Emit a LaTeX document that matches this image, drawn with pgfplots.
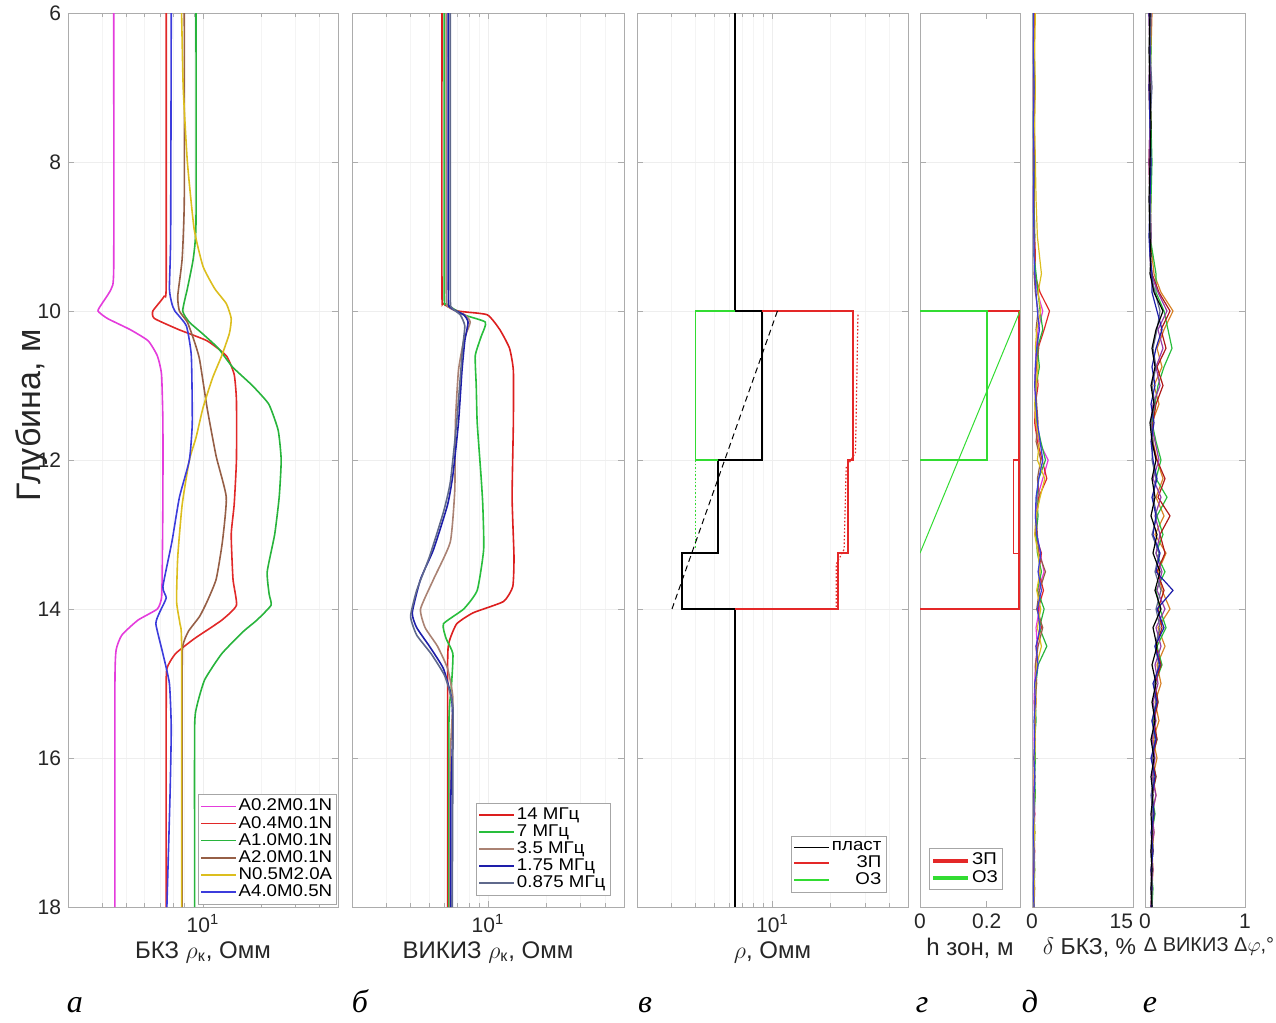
\documentclass[border=0pt]{standalone}
\usepackage{fontspec}
\setmainfont{Liberation Sans}
\newfontfamily\legfont[FakeStretch=1.1]{Liberation Sans}
\newfontfamily\letterfont{Liberation Serif}
\usepackage{pgfplots}
\pgfplotsset{compat=1.18}
\usepackage{pgfplotstable}

% probe colours
\definecolor{cMag}{RGB}{228,60,220}
\definecolor{cRed}{RGB}{225,40,40}
\definecolor{cGrn}{RGB}{40,180,60}
\definecolor{cBrn}{RGB}{150,95,70}
\definecolor{cYel}{RGB}{220,190,30}
\definecolor{cBlu}{RGB}{60,60,220}
% VIKIZ frequencies
\definecolor{fRed}{RGB}{220,30,30}
\definecolor{fGrn}{RGB}{40,190,60}
\definecolor{fTau}{RGB}{170,130,115}
\definecolor{fNav}{RGB}{30,30,170}
\definecolor{fSte}{RGB}{95,105,140}
% model
\definecolor{mRed}{RGB}{228,40,40}
\definecolor{mGrn}{RGB}{50,220,50}
\definecolor{eOrg}{RGB}{215,130,40}
\definecolor{ePur}{RGB}{150,60,170}

% relative BKZ errors, %
\pgfplotstableread{
depth m r g b y bl
6     .3 .4 .2 .3 .5 .2
6.5   .3 .3 .3 .2 .4 .2
7     .2 .4 .3 .3 .5 .3
7.5   .3 .3 .2 .3 .4 .2
8     .3 .4 .3 .2 .5 .3
8.5   .2 .3 .3 .3 .6 .2
9     .3 .4 .4 .3 .8 .3
9.25  .4 .5 .3 .4 1.1 .3
9.5   .5 .4 .6 .3 1.4 .4
9.75  .8 1.2 .9 .5 .9 .6
10    1.6 2.6 1.2 .9 1.3 .8
10.25 .9 1.8 1.6 .6 .7 1.1
10.5  .6 .9 .8 1.0 .5 .7
10.75 .5 .7 1.1 .6 .9 .5
11    .4 .9 .6 .5 .6 .4
11.25 .6 .5 .5 .7 .4 .6
11.5  .5 .4 .7 .9 .6 .8
11.75 1.0 .8 1.3 .6 1.1 1.2
12    2.4 1.5 2.0 1.3 .8 1.6
12.25 1.6 2.2 1.0 .8 1.9 1.0
12.5  .8 1.0 .7 1.1 1.2 .6
12.75 .5 .7 .9 .6 .6 .5
13    .7 .5 .6 .8 .4 .7
13.25 1.2 1.4 .8 1.0 .9 1.3
13.5  1.8 1.0 1.4 2.0 1.2 .9
13.75 .9 1.7 .8 1.1 .7 1.4
14    1.1 .9 1.8 .7 1.3 .8
14.25 .6 1.4 1.1 1.6 .8 1.2
14.5  .8 .6 2.2 .9 1.4 .6
14.75 .5 .8 .9 .5 .7 .9
15    .4 .5 .6 .7 .5 .4
15.25 .3 .6 .5 .4 .6 .5
15.5  .4 .4 .6 .5 .4 .3
15.75 .3 .5 .4 .4 .5 .4
16    .4 .3 .5 .3 .4 .3
16.25 .3 .4 .4 .4 .3 .4
16.5  .3 .3 .5 .3 .4 .3
16.75 .4 .4 .3 .3 .3 .3
17    .3 .3 .4 .4 .4 .2
17.25 .3 .4 .3 .3 .3 .3
17.5  .2 .3 .4 .3 .4 .3
17.75 .3 .3 .3 .4 .3 .2
18    .3 .3 .3 .3 .3 .3
}\bkzerr

% VIKIZ phase-difference errors, degrees
\pgfplotstableread{
depth k bl pu or gr st rd
6     .05 .04 .06 .07 .05 .06 .04
6.5   .04 .05 .05 .06 .06 .05 .05
7     .05 .04 .06 .05 .05 .07 .04
7.5   .06 .05 .05 .06 .06 .05 .05
8     .05 .06 .04 .05 .07 .06 .04
8.5   .04 .05 .05 .06 .06 .05 .05
9     .05 .04 .06 .05 .05 .06 .06
9.25  .06 .05 .05 .07 .08 .05 .05
9.5   .05 .07 .06 .09 .11 .06 .07
9.75  .09 .07 .13 .16 .11 .10 .14
10    .18 .12 .22 .28 .19 .15 .25
10.25 .11 .17 .13 .19 .23 .12 .16
10.5  .07 .11 .18 .12 .27 .08 .21
10.75 .10 .07 .11 .17 .19 .11 .12
11    .06 .10 .15 .09 .13 .07 .18
11.25 .09 .06 .08 .14 .10 .10 .11
11.5  .05 .09 .06 .07 .07 .06 .08
11.75 .07 .06 .10 .08 .11 .08 .07
12    .11 .08 .14 .12 .16 .07 .12
12.25 .07 .12 .08 .18 .11 .11 .20
12.5  .10 .07 .16 .11 .22 .08 .13
12.75 .06 .11 .10 .19 .12 .12 .25
13    .12 .08 .15 .10 .18 .07 .15
13.25 .08 .15 .11 .21 .11 .14 .20
13.5  .15 .11 .17 .13 .20 .10 .12
13.75 .10 .28 .12 .17 .11 .16 .19
14    .16 .12 .20 .25 .15 .11 .13
14.25 .08 .19 .11 .13 .21 .15 .17
14.5  .12 .10 .16 .20 .12 .10 .11
14.75 .07 .15 .10 .12 .17 .14 .16
15    .11 .08 .13 .16 .10 .09 .10
15.25 .07 .12 .08 .10 .13 .11 .13
15.5  .10 .07 .11 .14 .08 .07 .09
15.75 .06 .11 .07 .08 .12 .10 .12
16    .09 .06 .10 .12 .07 .07 .07
16.25 .06 .10 .07 .08 .11 .09 .11
16.5  .08 .07 .11 .11 .07 .06 .07
16.75 .06 .09 .07 .07 .10 .08 .09
17    .07 .06 .09 .09 .07 .07 .07
17.25 .06 .08 .06 .07 .08 .06 .08
17.5  .07 .06 .08 .08 .06 .07 .06
17.75 .06 .07 .06 .07 .08 .06 .07
18    .07 .06 .07 .06 .07 .07 .06
}\vikizerr

\pgfplotsset{
  well/.style={
    scale only axis, anchor=north west, height=447pt,
    y dir=reverse, ymin=6, ymax=18, ytick={6,8,...,18},
    axis line style={gray!65}, tick style={gray!65, line width=0.4pt},
    major tick length=3pt, minor tick length=1.8pt, tick align=inside,
    ymajorgrids, major grid style={gray!13, line width=0.4pt},
    minor grid style={gray!9, line width=0.4pt},
    ticklabel style={font=\fontsize{10.5}{12}\selectfont, text=black!85},
    xlabel style={font=\fontsize{12}{14}\selectfont, inner sep=1pt, text=black!85},
    every axis plot/.append style={line width=0.8pt},
    legend style={font=\legfont\fontsize{8.5}{9}\selectfont, draw=gray!70,
      fill=white, inner sep=1pt, row sep=-1.5pt, nodes={inner sep=1.3pt}},
  },
  logwell/.style={well, xmin=2, xmax=50, xtick={10},
    xticklabels={10\textsuperscript{1}},
    minor xtick={3,4,5,6,7,8,9,20,30,40}, xmajorgrids, xminorgrids},
  noylab/.style={yticklabels={}},
  curve/.style={smooth, tension=0.3},
}

\begin{document}
\begin{tikzpicture}
\useasboundingbox (0,0) rectangle (638pt,-511.5pt);

% ---- а: BKZ apparent resistivity
\begin{semilogxaxis}[logwell, at={(34pt,-6.5pt)}, width=135pt,
  /pgf/number format/assume math mode=true,
  ylabel={Глубина, м},
  ylabel style={font=\fontsize{17}{19}\selectfont, at={(axis description cs:-0.135,0.55)}, anchor=center, text=black!85},
  xlabel={БКЗ $\rho$\textsubscript{к}, Омм},
  legend style={at={(0.997,0.003)}, anchor=south east}, legend cell align=left]
\addplot[cMag, curve] coordinates {(3.45,6) (3.45,9.4) (3.35,9.7) (3.0,9.9) (2.86,10.0) (3.2,10.1) (4.2,10.25) (5.2,10.4) (5.8,10.6) (6.1,10.85) (6.2,11.5) (6.2,12.5) (6.15,13.5) (6.1,13.85) (5.8,14.0) (4.6,14.15) (3.8,14.35) (3.55,14.55) (3.5,15) (3.5,18)};
\addlegendentry{A0.2M0.1N}
\addplot[cRed, curve] coordinates {(6.45,6) (6.45,9.6) (6.3,9.8) (5.5,10.0) (5.6,10.1) (7.5,10.25) (10.5,10.4) (13.2,10.6) (14.5,10.85) (14.9,11.2) (14.9,12.0) (14.5,12.6) (14.0,13.0) (14.3,13.6) (14.9,13.95) (12.5,14.15) (9.0,14.4) (7.2,14.6) (6.5,14.8) (6.45,15.2) (6.45,18)};
\addlegendentry{A0.4M0.1N}
\addplot[cGrn, curve] coordinates {(9.2,6) (9.2,8.8) (8.9,9.3) (8.3,9.7) (7.85,10.0) (8.5,10.15) (9.9,10.3) (12,10.5) (14.2,10.75) (18,11.0) (21.9,11.25) (24.5,11.6) (25.4,12.0) (24.8,12.5) (23.5,13.0) (21.5,13.5) (22,13.8) (22.5,13.95) (19,14.15) (16.2,14.3) (12.5,14.6) (10.2,14.95) (9.3,15.3) (9.05,15.6) (9.05,18)};
\addlegendentry{A1.0M0.1N}
\addplot[cBrn, curve] coordinates {(8.0,6) (8.0,8.5) (7.8,9.3) (7.4,9.8) (7.55,10.0) (8.3,10.15) (9.0,10.4) (9.6,10.65) (10.5,11.3) (11.7,11.95) (13.2,12.5) (12.6,13.1) (11.7,13.6) (10.5,13.9) (9.6,14.1) (8.4,14.3) (7.85,14.5) (7.8,15) (7.8,18)};
\addlegendentry{A2.0M0.1N}
\addplot[cYel, curve] coordinates {(7.75,6) (7.9,7) (8.3,8) (9.0,8.9) (10,9.4) (11.5,9.7) (13.2,9.9) (14,10.1) (13.7,10.3) (12.5,10.6) (11.2,10.9) (10.0,11.3) (9.2,11.7) (8.5,12.0) (7.8,12.6) (7.4,13.3) (7.3,13.9) (7.6,14.2) (7.75,14.5) (7.75,18)};
\addlegendentry{N0.5M2.0A}
\addplot[cBlu, curve] coordinates {(6.85,6) (6.8,9.0) (6.7,9.7) (6.9,9.9) (7.15,10.0) (8.2,10.2) (8.7,10.6) (8.8,11.5) (8.5,12.0) (7.55,12.5) (6.9,13.1) (6.2,13.7) (6.45,13.85) (5.95,14.05) (5.7,14.2) (6.2,14.6) (6.7,15.0) (6.85,15.6) (6.75,16.5) (6.5,18)};
\addlegendentry{A4.0M0.5N}
\end{semilogxaxis}

% ---- б: VIKIZ apparent resistivity
\begin{semilogxaxis}[logwell, noylab, at={(176pt,-6.5pt)}, width=136pt,
  xlabel={ВИКИЗ $\rho$\textsubscript{к}, Омм},
  legend style={at={(0.95,0.013)}, anchor=south east}, legend cell align=left]
\addplot[fRed, curve] coordinates {(5.8,6) (5.8,9.7) (5.9,9.9) (7.0,10.0) (9.9,10.05) (11.5,10.25) (12.9,10.5) (13.5,10.8) (13.5,11.5) (13.3,12.5) (13.6,13.3) (13.4,13.7) (12.0,13.9) (8.4,14.05) (6.9,14.2) (6.3,14.45) (6.2,14.8) (6.2,18)};
\addlegendentry{14 МГц}
\addplot[fGrn, curve] coordinates {(5.95,6) (5.95,9.7) (6.1,9.9) (7.5,10.05) (9.7,10.15) (9.2,10.35) (8.6,10.6) (8.7,11.0) (8.8,11.5) (9.2,12.2) (9.4,12.6) (9.5,13.2) (8.8,13.75) (7.5,14.0) (5.9,14.2) (6.1,14.4) (6.6,14.6) (6.5,15.0) (6.3,15.5) (6.3,18)};
\addlegendentry{7 МГц}
\addplot[fTau, curve] coordinates {(6.1,6) (6.1,9.7) (6.3,9.95) (7.6,10.05) (8.1,10.15) (7.5,10.4) (7.05,10.8) (6.8,11.5) (6.75,12.4) (6.4,13.1) (5.25,13.6) (4.5,14.0) (4.75,14.25) (5.5,14.5) (6.2,14.8) (6.6,15.2) (6.4,16) (6.35,18)};
\addlegendentry{3.5 МГц}
\addplot[fNav, curve] coordinates {(6.25,6) (6.25,9.7) (6.4,9.95) (7.5,10.05) (7.9,10.15) (7.6,10.4) (7.35,10.8) (7.05,11.5) (6.6,12.2) (6.2,12.6) (5.25,13.2) (4.5,13.6) (4.08,14.05) (4.3,14.25) (5.0,14.5) (5.9,14.8) (6.5,15.2) (6.6,15.6) (6.45,16.5) (6.45,18)};
\addlegendentry{1.75 МГц}
\addplot[fSte, curve] coordinates {(6.4,6) (6.4,9.7) (6.5,9.95) (7.2,10.05) (7.6,10.2) (7.4,10.5) (7.2,10.9) (6.9,11.5) (6.4,12.3) (5.9,12.7) (5.0,13.3) (4.3,13.75) (4.0,14.1) (4.3,14.35) (5.1,14.6) (6.0,14.9) (6.6,15.3) (6.6,16) (6.55,18)};
\addlegendentry{0.875 МГц}
\end{semilogxaxis}

% ---- в: resistivity model
\begin{semilogxaxis}[logwell, noylab, at={(318.5pt,-6.5pt)}, width=135.5pt,
  xlabel={$\rho$, Омм},
  legend style={at={(0.92,0.016)}, anchor=south east}, legend cell align=right]
\addplot[black] coordinates {(6.4,6) (6.4,10) (8.8,10) (8.8,12) (5.23,12) (5.23,13.25) (3.41,13.25) (3.41,14) (6.4,14) (6.4,18)};
\addlegendentry{пласт}
\addplot[mRed] coordinates {(8.8,10) (26,10) (26,12) (24.5,12) (24.5,13.25) (21.7,13.25) (21.7,14) (6.4,14)};
\addlegendentry{ЗП}
\addplot[mGrn] coordinates {(6.4,10) (4.0,10) (4.0,12) (5.23,12)};
\addlegendentry{ОЗ}
\addplot[black, densely dashed, line width=0.5pt, forget plot] coordinates {(10.6,10) (3.03,14)};
\addplot[mRed, densely dotted, line width=0.6pt, forget plot] coordinates {(27.6,10.05) (26.8,11.9) (24,12.1) (23.4,13.2) (21.3,13.4) (21.3,14)};
\addplot[mGrn, densely dotted, line width=0.6pt, forget plot] coordinates {(4.0,12) (4.0,13.2)};
\end{semilogxaxis}

% ---- г: zone thickness
\begin{axis}[well, noylab, at={(460pt,-6.5pt)}, width=50pt,
  /pgf/number format/assume math mode=true,
  xmin=0, xmax=0.3, xtick={0,0.2}, xticklabels={0,0.2},
  xlabel={h зон, м},
  legend style={at={(0.83,0.019)}, anchor=south east}, legend cell align=left]
\addplot[mRed, line width=1pt, forget plot] coordinates {(0,10) (0.298,10) (0.298,14) (0,14)};
\addplot[mRed, line width=0.6pt, forget plot] coordinates {(0.298,12) (0.28,12) (0.28,13.25) (0.298,13.25)};
\addplot[mGrn, line width=1pt, forget plot] coordinates {(0,10) (0.2,10) (0.2,12) (0,12)};
\addplot[mGrn, line width=0.5pt, forget plot] coordinates {(0.3,10) (0,13.25)};
\addlegendimage{mRed, line width=2pt}
\addlegendentry{ЗП}
\addlegendimage{mGrn, line width=2pt}
\addlegendentry{ОЗ}
\end{axis}

% ---- д: BKZ relative error
\begin{axis}[well, noylab, at={(516pt,-6.5pt)}, width=50.5pt,
  /pgf/number format/assume math mode=true,
  xmin=0, xmax=15, xtick={0,15}, xticklabels={0,\makebox[0pt][r]{15}},
  xlabel={$\delta$ БКЗ, \%},
  xlabel style={font=\fontsize{11.5}{13}\selectfont, xshift=3.5pt},
  every axis plot/.append style={line width=0.6pt}]
\addplot[cMag] table[x=m, y=depth] {\bkzerr};
\addplot[cRed] table[x=r, y=depth] {\bkzerr};
\addplot[cGrn] table[x=g, y=depth] {\bkzerr};
\addplot[cBrn] table[x=b, y=depth] {\bkzerr};
\addplot[cYel] table[x=y, y=depth] {\bkzerr};
\addplot[cBlu] table[x=bl, y=depth] {\bkzerr};
\end{axis}

% ---- е: VIKIZ phase-difference error
\begin{axis}[well, noylab, at={(572.5pt,-6.5pt)}, width=50pt,
  /pgf/number format/assume math mode=true,
  xmin=0, xmax=1, xtick={0,1},
  xlabel={Δ ВИКИЗ Δ$\varphi$,°},
  xlabel style={font=\fontsize{10}{12}\selectfont, xshift=7pt},
  every axis plot/.append style={line width=0.6pt}]
\addplot[eOrg] table[x=or, y=depth] {\vikizerr};
\addplot[fGrn] table[x=gr, y=depth] {\vikizerr};
\addplot[fRed!80!black] table[x=rd, y=depth] {\vikizerr};
\addplot[ePur] table[x=pu, y=depth] {\vikizerr};
\addplot[fSte] table[x=st, y=depth] {\vikizerr};
\addplot[fNav] table[x=bl, y=depth] {\vikizerr};
\addplot[black] table[x=k, y=depth] {\vikizerr};
\end{axis}

% panel letters
\begin{scope}[every node/.style={font=\letterfont\itshape\fontsize{16}{17}\selectfont, anchor=base}]
\node at (37.5pt,-506pt) {а};
\node at (180pt,-506pt) {б};
\node at (322.5pt,-506pt) {в};
\node at (461pt,-506pt) {г};
\node at (515pt,-506pt) {д};
\node at (575pt,-506pt) {е};
\end{scope}
\end{tikzpicture}
\end{document}
